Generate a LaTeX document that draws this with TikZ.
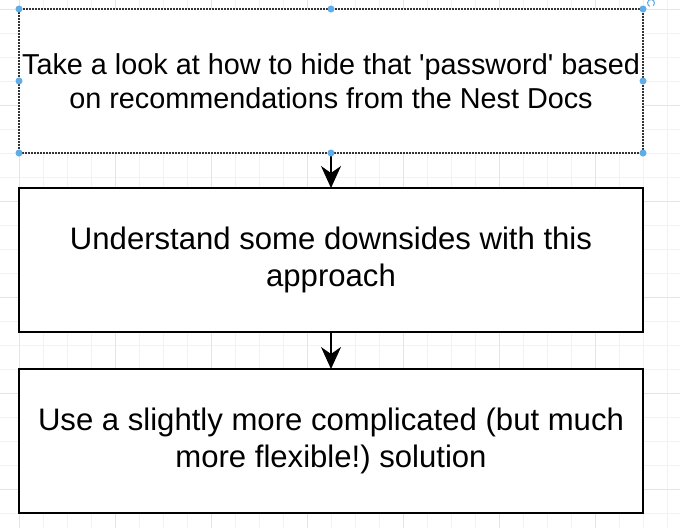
\documentclass[tikz,border=0pt]{standalone}
\usepackage{fontspec}
\setmainfont{Liberation Sans}[Ligatures=TeXOff]
\usetikzlibrary{positioning, arrows.meta}

\definecolor{gridminor}{RGB}{242,242,242}
\definecolor{gridmajor}{RGB}{228,228,228}
\definecolor{handleblue}{RGB}{94,172,232}
\frenchspacing

\begin{document}
\begin{tikzpicture}[
  x=1pt, y=-1pt,
  node distance=35pt,
  stepbox/.style={rectangle, draw, line width=2pt, fill=white, outer sep=0pt,
    inner xsep=0pt, minimum width=624pt, minimum height=144pt, align=center,
    font=\fontsize{31.1}{37}\selectfont},
  selected/.style={stepbox, draw=black!80, line width=1.2pt, dash pattern=on 2pt off 1pt,
    font=\fontsize{28.8}{34}\selectfont},
  flow/.style={line width=2pt, -{Stealth[length=22pt, width=20pt, inset=7pt]}},
  handle/.style={fill=handleblue}
]

% page and grid
\useasboundingbox (0,0) rectangle (680,528);
\fill[white] (0,0) rectangle (680,528);
\foreach \gx in {-5,19,...,680} \draw[gridminor, line width=0.8pt] (\gx,0) -- (\gx,528);
\foreach \gy in {9,33,...,528} \draw[gridminor, line width=0.8pt] (0,\gy) -- (680,\gy);
\foreach \gx in {19,115,...,680} \draw[gridmajor, line width=0.8pt] (\gx,0) -- (\gx,528);
\foreach \gy in {9,105,...,528} \draw[gridmajor, line width=0.8pt] (0,\gy) -- (680,\gy);

% steps
\node[selected] (look) at (331,81) {Take a look at how to hide that 'password' based\\on recommendations from the Nest Docs};
\node[stepbox, below=of look] (understand) {Understand some downsides with this\\approach};
\node[stepbox, below=37pt of understand] (solution) {Use a slightly more complicated (but much\\more flexible!) solution};

% flow
\draw[flow] (look) -- (understand);
\draw[flow] (understand) -- (solution);

% selection handles
\foreach \a in {north west, north, north east, east, south east, south, south west, west}
  \fill[handle] (look.\a) circle (3.5pt);
\draw[handleblue, line width=1pt] ([shift={(8,-6)}]look.north east) ++(-50:3.5pt) arc[start angle=-50, end angle=250, radius=3.5pt];

\end{tikzpicture}
\end{document}
